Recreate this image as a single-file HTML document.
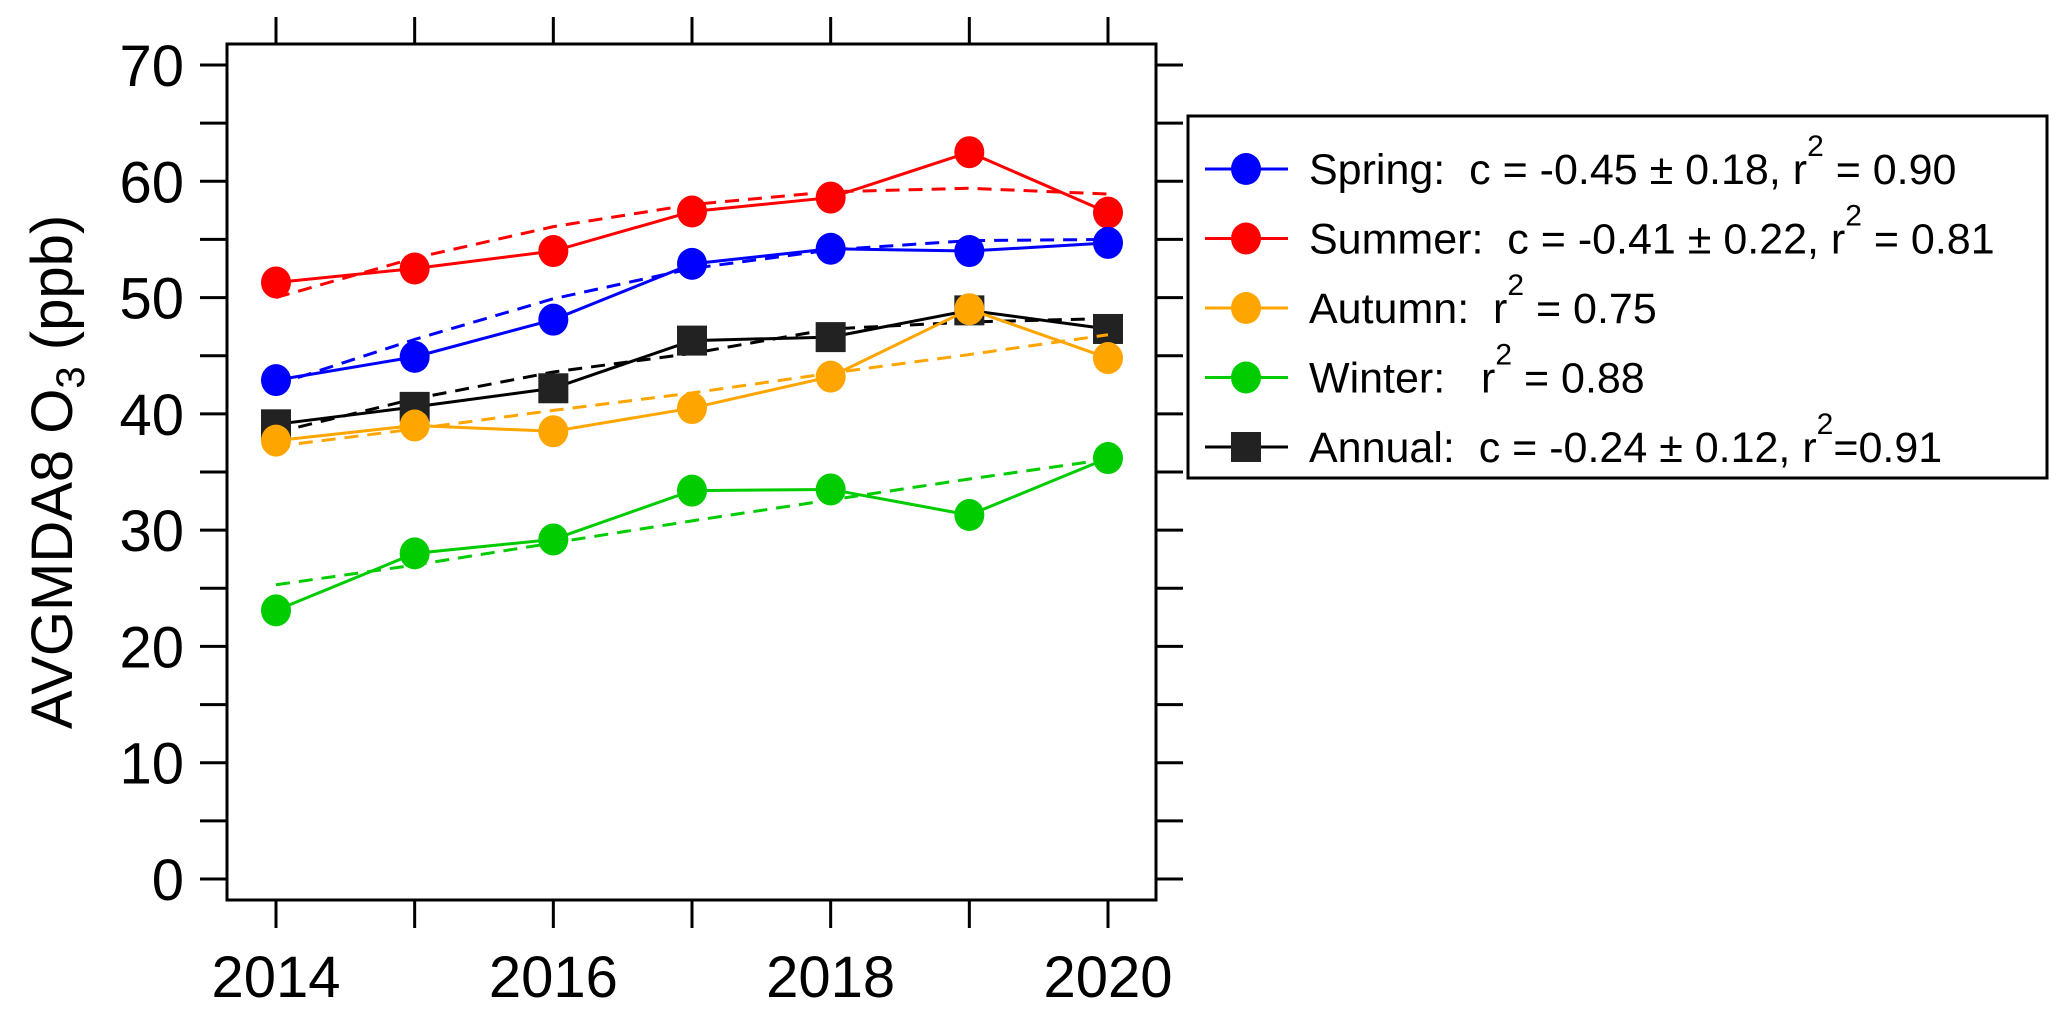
<!DOCTYPE html>
<html><head><meta charset="utf-8"><style>
html,body{margin:0;padding:0;background:#fff;}
svg{display:block;font-family:"Liberation Sans",Arial,sans-serif;}
</style></head><body>
<svg id="chart" width="2067" height="1016" viewBox="0 0 2067 1016" xmlns="http://www.w3.org/2000/svg">
<g id="axes"></g>
<g id="series"></g>
<text transform="translate(72,472) rotate(-90)" text-anchor="middle" font-size="58" fill="#000">AVGMDA8 O<tspan font-size="40" dy="12">3</tspan><tspan dy="-12"> (ppb)</tspan></text>
<g id="legend"></g>
</svg>
<script>
const years = [2014, 2015, 2016, 2017, 2018, 2019, 2020];
const yTicks = [0, 10, 20, 30, 40, 50, 60, 70];
const xTickLabels = [2014, 2016, 2018, 2020];
const springVals = [42.9, 44.9, 48.1, 52.9, 54.2, 54.0, 54.7];
const summerVals = [51.3, 52.5, 54.0, 57.4, 58.6, 62.5, 57.3];
const autumnVals = [37.7, 39.0, 38.5, 40.5, 43.2, 49.0, 44.8];
const winterVals = [23.1, 28.0, 29.2, 33.4, 33.5, 31.3, 36.2];
const annualVals = [39.1, 40.6, 42.2, 46.3, 46.6, 48.9, 47.3];
const springFit = [42.5, 46.4, 49.9, 52.5, 54.1, 54.9, 55.0];
const summerFit = [50.0, 53.4, 56.1, 58.0, 59.1, 59.4, 58.9];
const autumnFit = [37.2, 38.7, 40.3, 41.8, 43.5, 45.1, 46.8];
const winterFit = [25.3, 27.0, 28.9, 30.8, 32.6, 34.4, 36.1];
const annualFit = [38.4, 41.3, 43.6, 45.2, 47.3, 47.9, 48.2];

const NS = "http://www.w3.org/2000/svg";
const X0 = 276, X1 = 1108, Y0 = 879, Y70 = 65;
function xs(v){ return X0 + (v - 2014) * (X1 - X0) / 6; }
function ys(v){ return Y0 - v * (Y0 - Y70) / 70; }
function mk(tag, attrs, parent){
  const e = document.createElementNS(NS, tag);
  for (const k in attrs) e.setAttribute(k, attrs[k]);
  parent.appendChild(e); return e;
}
const axes = document.getElementById('axes');
const frame = mk('rect', {x:227, y:44, width:929, height:856, fill:'none', stroke:'#000', 'stroke-width':3}, axes);


for (let v = 0; v <= 70; v += 5) {
  const y = ys(v);
  const t1 = mk('line', {x1:200, x2:227, y1:y, y2:y, stroke:'#000', 'stroke-width':3}, axes);
  
  
  const t2 = mk('line', {x1:1156, x2:1183, y1:y, y2:y, stroke:'#000', 'stroke-width':3}, axes);
  
  
}
yTicks.forEach(v => {
  const t = mk('text', {x:184, y:ys(v)+21, 'text-anchor':'end', 'font-size':58, fill:'#000'}, axes);
  t.textContent = v;
  
  
});
years.forEach(yr => {
  const x = xs(yr);
  const b = mk('line', {x1:x, x2:x, y1:900, y2:928, stroke:'#000', 'stroke-width':3}, axes);
  
  
  const t = mk('line', {x1:x, x2:x, y1:17, y2:44, stroke:'#000', 'stroke-width':3}, axes);
  
  
});
xTickLabels.forEach(yr => {
  const t = mk('text', {x:xs(yr), y:997, 'text-anchor':'middle', 'font-size':58, fill:'#000'}, axes);
  t.textContent = yr;
  
  
});

const sg = document.getElementById('series');
const seriesList = [
  {name:'summer', vals:summerVals, fit:summerFit, color:'#ff0000', sq:false},
  {name:'spring', vals:springVals, fit:springFit, color:'#0000ff', sq:false},
  {name:'annual', vals:annualVals, fit:annualFit, color:'#222222', sq:true},
  {name:'autumn', vals:autumnVals, fit:autumnFit, color:'#ffa500', sq:false},
  {name:'winter', vals:winterVals, fit:winterFit, color:'#00cc00', sq:false}
];
seriesList.forEach(s => {
  const fitPts = years.map((yr,i) => xs(yr)+','+ys(s.fit[i])).join(' ');
  const f = mk('polyline', {points:fitPts, fill:'none', stroke:s.color==='#222222'?'#000':s.color, 'stroke-width':3, 'stroke-dasharray':'14,9'}, sg);
  
  
  const pts = years.map((yr,i) => xs(yr)+','+ys(s.vals[i])).join(' ');
  const l = mk('polyline', {points:pts, fill:'none', stroke:s.color==='#222222'?'#000':s.color, 'stroke-width':3}, sg);
  
  
  years.forEach((yr,i) => {
    let m;
    if (s.sq) m = mk('rect', {x:xs(yr)-15, y:ys(s.vals[i])-15, width:30, height:30, fill:s.color}, sg);
    else m = mk('ellipse', {cx:xs(yr), cy:ys(s.vals[i]), rx:15, ry:16, fill:s.color}, sg);
    
    
  });
});

const lg = document.getElementById('legend');
const box = mk('rect', {x:1188, y:116, width:859, height:362, fill:'#fff', stroke:'#000', 'stroke-width':3}, lg);


const legendRows = [
  {name:'spring', color:'#0000ff', sq:false, pre:'Spring:  c = -0.45 ± 0.18, r', post:' = 0.90'},
  {name:'summer', color:'#ff0000', sq:false, pre:'Summer:  c = -0.41 ± 0.22, r', post:' = 0.81'},
  {name:'autumn', color:'#ffa500', sq:false, pre:'Autumn:  r', post:' = 0.75'},
  {name:'winter', color:'#00cc00', sq:false, pre:'Winter:   r', post:' = 0.88'},
  {name:'annual', color:'#222222', sq:true, pre:'Annual:  c = -0.24 ± 0.12, r', post:'=0.91'}
];
legendRows.forEach((r,i) => {
  const cy = 169 + i*69.5;
  const g = mk('g', {}, lg);
  
  
  mk('line', {x1:1205, x2:1288, y1:cy, y2:cy, stroke:r.sq?'#000':r.color, 'stroke-width':3}, g);
  if (r.sq) mk('rect', {x:1231, y:cy-15, width:30, height:30, fill:r.color}, g);
  else mk('ellipse', {cx:1246, cy:cy, rx:15, ry:16, fill:r.color}, g);
  const t = mk('text', {x:1309, y:cy+15, 'font-size':43, fill:'#000'}, g);
  t.setAttribute('xml:space', 'preserve');
  t.style.whiteSpace = 'pre';
  const a = document.createElementNS(NS,'tspan'); a.textContent = r.pre; t.appendChild(a);
  const b = document.createElementNS(NS,'tspan'); b.textContent = '2'; b.setAttribute('font-size','30'); b.setAttribute('dy','-28'); t.appendChild(b);
  const c = document.createElementNS(NS,'tspan'); c.textContent = r.post; c.setAttribute('dy','28'); t.appendChild(c);
});
</script>
</body></html>
